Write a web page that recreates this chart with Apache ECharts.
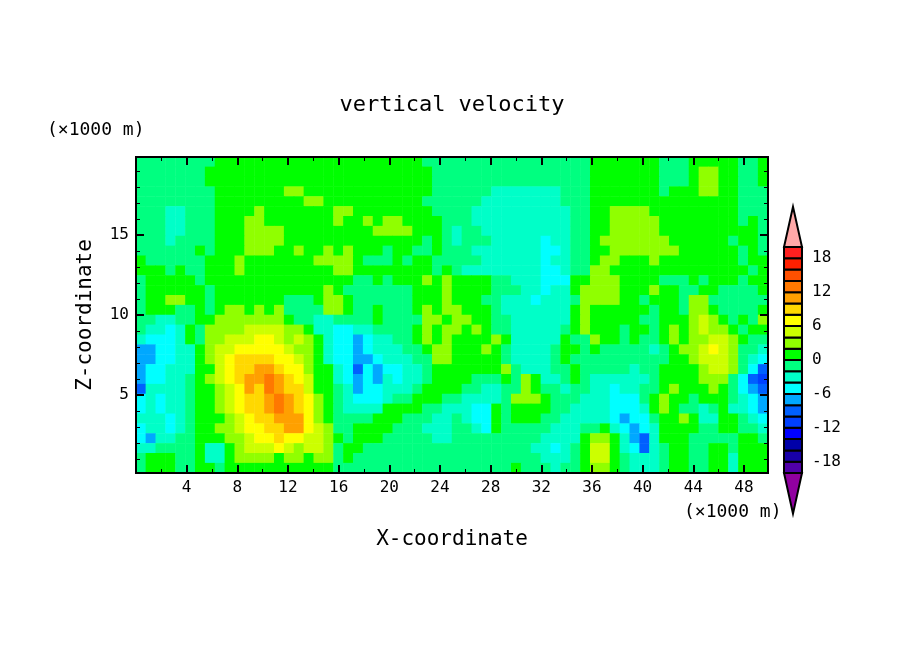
<!DOCTYPE html>
<html>
<head>
<meta charset="utf-8">
<style>html,body{margin:0;background:#fff}#chart{width:904px;height:654px}</style>
<script src="https://cdn.jsdelivr.net/npm/echarts@6/dist/echarts.min.js"></script>
</head>
<body>
<div id="chart"></div>
<script>
// band edges of the colour bar and the colour of each band
const bandEdges = [-20,-18,-16,-14,-12,-10,-8,-6,-4,-2,0,2,4,6,8,10,12,14,16,18,20];
const bandColors = ['#5000a8','#1800a8','#0000a8','#0000ff','#0040ff','#0060ff','#00a8ff','#00ffff','#00ffc8','#00ff80',
  '#00ff00','#90ff00','#ccff00','#ffff00','#ffd800','#ffa000','#ff7800','#ff5000','#ff2000','#ff2020'];
const barLabels = [-18,-12,-6,0,6,12,18];
const xLabels = [4,8,12,16,20,24,28,32,36,40,44,48];
const xMinor = [2,6,10,14,18,22,26,30,34,38,42,46];
const zLabels = [5,10,15];
const zMinor = [1,2,3,4,6,7,8,9,11,12,13,14,16,17,18,19];

// vertical velocity, top row first
const wRows = [
[-1,-1,-1,-1,-1,-1,-1,-1, 1,1,1,1,1,1,1,1, 1,1,1,1,1,1,1,1, 1,1,1,1,1,-1,-1,-1, -1,-1,-1,-1,-1,-1,-1,-1, -1,-1,-1,-1,-1,-1,1,1, 1,1,1,1,1,-1,-1,-1, 1,1,1,1,1,-1,-1,1],
[-1,-1,-1,-1,-1,-1,-1,1, 1,1,1,1,1,1,1,1, 1,1,1,1,1,1,1,1, 1,1,1,1,1,1,-1,-1, -1,-1,-1,-1,-1,-1,-1,-1, -1,-1,-1,-1,-1,-1,1,1, 1,1,1,1,1,-1,-1,-1, 1,3,3,1,1,-1,-1,1],
[-1,-1,-1,-1,-1,-1,-1,1, 1,1,1,1,1,1,1,1, 1,1,1,1,1,1,1,1, 1,1,1,1,1,1,-1,-1, -1,-1,-1,-1,-1,-1,-1,-1, -1,-1,-1,-1,-1,-1,1,1, 1,1,1,1,1,-1,-1,-1, 1,3,3,1,1,-1,-1,1],
[-1,-1,-1,-1,-1,-1,-1,-1, 1,1,1,1,1,1,1,3, 3,1,1,1,1,1,1,1, 1,1,1,1,1,1,-1,-1, -1,-1,-1,-1,-3,-3,-3,-3, -3,-3,-3,-1,-1,-1,1,1, 1,1,1,1,1,-1,1,1, 1,3,3,1,1,-1,-1,-1],
[-1,-1,-1,-1,-1,-1,-1,-1, 1,1,1,1,1,1,1,1, 1,3,3,1,1,1,1,1, 1,1,1,1,1,-1,-1,-1, -1,-1,-1,-3,-3,-3,-3,-3, -3,-3,-3,-1,-1,-1,1,1, 1,1,1,1,1,1,1,1, 1,1,1,1,1,-1,-1,-1],
[-1,-1,-1,-3,-3,-1,-1,-1, 1,1,1,1,3,1,1,1, 1,1,1,1,3,3,1,1, 1,1,1,1,1,1,-1,-1, -1,-1,-3,-3,-3,-3,-3,-3, -3,-3,-3,-3,-1,-1,1,1, 3,3,3,3,1,1,1,1, 1,1,1,1,1,-1,-1,-1],
[-1,-1,-1,-3,-3,-1,-1,-1, 1,1,1,3,3,1,1,1, 1,1,1,1,3,1,1,3, 1,3,3,1,1,1,1,-1, -1,-1,-3,-3,-3,-3,-3,-3, -3,-3,-3,-3,-1,-1,1,1, 3,3,3,3,3,1,1,1, 1,1,1,1,1,-1,1,-1],
[-1,-1,-1,-3,-3,-1,-1,-1, 1,1,1,3,3,3,3,1, 1,1,1,1,1,1,1,1, 3,3,3,3,1,1,1,-1, -3,-1,-1,-3,-3,-3,-3,-3, -3,-3,-3,-3,-1,-1,1,1, 3,3,3,3,3,1,1,1, 1,1,1,1,1,1,1,-1],
[-1,-1,-1,-3,-1,-1,-1,-1, 1,1,1,3,3,3,3,1, 1,1,1,1,1,1,1,1, 1,1,1,1,1,-1,1,-1, -3,-1,-1,-1,-3,-3,-3,-3, -3,-5,-3,-3,-1,-1,1,3, 3,3,3,3,3,3,1,1, 1,1,1,1,-1,1,1,-1],
[-1,-1,-1,-1,-1,-1,1,-1, 1,1,1,3,3,3,1,1, 3,1,1,3,1,3,1,1, 1,-1,1,1,-1,-1,1,-1, -1,-1,-3,-3,-3,-3,-3,-3, -3,-5,-5,-3,-1,-1,1,1, 3,3,3,3,3,3,3,1, 1,1,1,1,1,-1,1,-1],
[1,-1,-1,-1,-1,-1,-1,1, 1,1,3,1,1,1,1,1, 1,1,3,3,3,3,1,-1, -1,-1,1,-1,1,1,-1,-1, -1,-1,-1,-3,-3,-3,-3,-3, -3,-5,-3,-3,-1,-1,1,3, 3,1,1,1,3,1,1,1, 1,1,1,1,1,-1,1,1],
[1,1,1,-1,1,-1,-1,1, 1,1,3,1,1,1,1,1, 1,1,1,1,3,3,1,1, 1,1,1,1,1,1,-1,1, -1,-3,-3,-3,-3,-3,-3,-3, -3,-5,-5,-3,-1,-1,3,3, 1,1,1,1,1,1,1,1, 1,1,1,1,1,1,-1,1],
[-1,1,1,1,1,1,-1,1, 1,1,1,1,1,1,1,1, 1,1,1,1,1,1,-1,-1, 1,-1,1,1,1,3,1,3, 1,1,1,1,-1,-1,-3,-3, -3,-5,-5,-5,1,1,3,3, 3,1,1,1,1,-1,-1,-1, 1,-1,1,1,1,-1,1,1],
[-1,1,1,1,1,1,1,-1, 1,1,1,1,1,1,1,1, 1,1,1,3,1,-1,-1,-1, -1,-1,-1,-1,1,1,1,3, 1,1,1,1,-1,-1,-1,-3, -3,-5,-3,-3,1,3,3,3, 3,1,1,1,3,1,1,-1, -1,1,1,-1,-1,-1,-1,1],
[-1,1,1,3,3,1,1,-1, 1,1,1,1,1,1,1,-1, -1,-1,1,3,3,1,-1,-1, -1,-1,-1,-1,1,1,1,3, 1,1,1,-1,-1,-3,-3,-3, -5,-3,-3,-3,-1,3,3,3, 3,1,1,-1,1,1,1,-1, 3,3,-1,-1,-1,-1,-1,-1],
[-1,1,1,1,-1,-1,1,-1, 1,3,3,1,3,1,3,-1, -1,-1,-1,3,3,1,-1,-1, 1,-1,-1,-1,1,3,1,3, 3,1,1,1,-1,-3,-3,-3, -3,-3,-3,-3,1,3,1,1, 1,1,1,1,-1,1,1,-1, 3,3,1,-1,-1,-1,-1,1],
[-1,-1,-3,-3,-1,-1,1,1, 3,3,3,3,3,3,3,1, -1,-1,-3,-3,-1,-1,-1,-1, 1,-1,-1,-1,-1,3,3,1, 3,3,1,1,-1,-1,-3,-3, -3,-3,-3,-3,1,3,1,1, 1,1,1,-1,-1,1,1,1, 3,5,3,1,-1,1,-1,3],
[-1,-3,-3,-5,-3,1,-1,3, 3,3,3,5,5,5,5,3, 3,1,-3,-3,-5,-5,-3,-3, -1,-1,-1,-1,1,3,1,3, 3,1,3,1,-1,-1,-3,-3, -3,-3,-3,-1,1,3,1,1, 1,-1,1,1,-1,1,3,1, 3,5,3,3,1,-1,1,1],
[-3,-5,-5,-5,-3,1,-1,3, 3,5,5,5,7,7,5,3, 5,3,1,-3,-5,-5,-7,-5, -3,-3,-1,-1,1,3,1,3, 1,1,1,1,3,1,-3,-3, -3,-3,-3,1,-1,-1,3,1, 1,-1,1,-1,-1,1,3,1, 3,3,5,5,3,1,-1,-1],
[-7,-7,-5,-5,-3,-3,1,3, 5,5,7,7,7,7,7,5, 3,3,1,-3,-5,-5,-7,-5, -3,-3,-3,-1,-1,1,3,3, 1,1,1,3,1,-1,-3,-3, -3,-3,-1,1,1,-1,1,-1, -1,-1,-1,-1,-3,-1,1,3, 3,5,7,5,3,-1,-1,-3],
[-7,-7,-5,-5,-3,-3,1,3, 5,7,9,9,9,9,7,7, 5,3,1,-3,-5,-5,-7,-7, -5,-3,-3,-3,-1,-1,3,3, 1,1,1,1,1,-1,-3,-3, -3,-3,-1,1,-1,-1,-1,-1, -1,-1,-1,-1,-1,-1,1,1, 3,5,5,5,3,-1,-3,-5],
[-7,-5,-5,-3,-3,-3,1,1, 5,7,9,9,11,11,9,7, 7,3,1,1,-3,-5,-9,-5, -7,-5,-5,-3,-3,-1,1,1, 1,1,1,1,1,3,-1,-3, -3,-3,-1,-1,1,-1,-1,-1, -1,-1,-3,-1,-1,1,1,1, 1,3,5,5,3,-1,-5,-9],
[-7,-5,-5,-3,-3,-1,1,3, 5,7,9,11,11,13,11,9, 7,5,1,1,-3,-5,-7,-5, -7,-3,-5,-3,-3,-1,1,1, 1,1,-1,-1,-1,1,-1,3, 1,-3,-3,-1,1,-1,-3,-3, -3,-3,-3,-3,-1,1,1,1, 1,3,3,3,-1,-5,-9,-11],
[-9,-3,-3,-3,-3,-1,1,1, 3,5,7,11,9,13,11,9, 9,5,1,1,-1,-3,-7,-5, -5,-3,-3,-3,-1,1,1,1, 1,-1,-1,-3,-3,-1,-1,3, 1,-1,-1,-3,-1,-1,-3,-3, -5,-3,-3,-1,-1,1,3,1, 1,1,3,1,-1,-5,-7,-9],
[-5,-3,-5,-3,-3,-1,1,1, 3,5,7,9,9,11,13,11, 9,7,3,1,-1,-3,-5,-5, -5,-3,-1,-1,1,1,1,-1, -1,-3,-3,-3,-3,-1,3,3, 3,1,-1,-1,-1,-3,-3,-3, -5,-5,-5,-1,1,3,1,1, -1,1,1,1,-1,-3,-5,-7],
[-5,-3,-5,-3,-3,-1,1,1, 3,5,7,9,9,11,13,11, 9,7,3,1,-1,-3,-3,-3, -3,1,1,1,1,-1,-1,-3, -3,-3,-5,-5,1,-1,1,1, 1,1,-1,-1,-3,-3,-3,-3, -5,-5,-5,-3,1,3,1,-1, -1,-3,-1,1,-3,-3,-5,-7],
[-3,-3,-3,-5,-3,-1,1,1, 1,3,5,7,9,9,11,11, 11,7,3,1,-1,-1,-1,-1, 1,1,1,-1,-1,-1,-3,-3, -1,-3,-5,-5,1,-1,1,1, 1,-1,-1,-3,-3,-3,-3,-3, -5,-7,-5,-5,-1,1,1,3, 1,-3,-3,1,1,-1,-3,-5],
[-5,-3,-3,-5,-3,-1,1,1, 3,3,5,7,7,9,9,11, 11,7,5,3,-1,-1,1,1, 1,1,-1,-1,-1,-3,-3,-3, -1,-1,-3,-5,1,-1,-1,-1, -1,-1,-3,-3,-3,-1,-1,1, -3,-5,-7,-5,-3,1,1,1, 1,-1,-1,1,1,-1,-1,-3],
[-5,-7,-3,-3,-1,-1,1,1, 1,3,3,5,7,7,9,7, 7,5,5,3,1,-1,1,1, 1,-1,-1,-1,-1,-1,-3,-3, -1,-1,-1,-1,-1,-1,-1,-1, -1,-3,-3,-3,-3,1,3,3, 1,-3,-7,-9,-3,1,1,1, -1,-1,-1,-1,-1,1,1,-1],
[-3,-3,-1,-1,-1,-1,1,-3, -3,1,3,5,5,5,7,5, 3,5,5,3,-1,1,1,-1, -1,-1,-1,-1,-1,-1,-1,-1, -1,-1,-1,-1,-1,-1,-1,-1, -3,-3,-5,-3,-1,1,5,5, 1,-3,-5,-9,-3,-1,1,1, -1,-1,1,1,-1,1,1,1],
[-1,1,1,1,-1,-1,1,-3, -3,1,3,3,3,3,1,3, 3,1,3,3,-1,1,-1,-1, -1,-1,-1,-1,-1,-1,-1,-1, -1,-1,-1,-1,-1,-1,-1,-1, -1,-3,-3,-3,-1,1,5,5, 1,-1,-3,-3,-3,-1,1,1, -1,-1,1,1,-3,1,1,1],
[-1,1,1,1,-1,-1,1,1, -1,1,1,1,1,1,1,1, 1,1,1,1,-1,-1,-1,-1, -1,-1,-1,-1,-1,-1,-1,-1, -1,-1,-1,-1,-1,-1,1,-1, -1,-1,-3,-1,-1,1,3,3, 1,-1,-3,-3,-3,-1,1,1, -1,-1,1,1,-3,1,1,1]
];

const plotBox = {left: 136, top: 157, width: 632, height: 316};
const barBox = {left: 784, top: 247, width: 18, height: 226};
const xSpan = [0, 49.9];
const zSpan = [0.12, 19.88];
const arrowTips = [-27.2, 27.1];
const textFont = 'DejaVu Sans Mono';

let cells = [];
wRows.forEach(function (row, j) {
    row.forEach(function (w, i) {
        cells.push([i, j, w]);
    });
});

const pieces = bandColors.map(function (c, i) {
    return {gte: bandEdges[i], lt: bandEdges[i + 1], color: c};
});

// colour bar boxes, then the two arrow heads
let barItems = bandColors.map(function (c, i) {
    return [bandEdges[i], bandEdges[i + 1]];
});
barItems.push([-20, arrowTips[0]]);
barItems.push([20, arrowTips[1]]);

function renderBar(params, api) {
    let lo = api.value(0), hi = api.value(1);
    let left = barBox.left, right = barBox.left + barBox.width;
    let y0 = api.coord([0, lo])[1], y1 = api.coord([0, hi])[1];
    let style = {stroke: '#000', lineWidth: 2};
    if (params.dataIndex < bandColors.length) {
        style.fill = bandColors[params.dataIndex];
        return {type: 'rect', shape: {x: left, y: y1, width: right - left, height: y0 - y1}, style: style};
    }
    style.fill = params.dataIndex === bandColors.length ? '#9000a0' : '#ffa8a8';
    return {type: 'polygon', shape: {points: [[left, y0], [right, y0], [(left + right) / 2, y1]]}, style: style};
}

function tickAxis(grid, position, span, ticks, len, width, showLabels) {
    return {
        type: 'value', gridIndex: grid, position: position, min: span[0], max: span[1], z: 10,
        axisLine: {show: true, onZero: false, lineStyle: {color: '#000', width: 2}},
        axisTick: {show: true, inside: true, length: len, customValues: ticks, lineStyle: {color: '#000', width: width}},
        axisLabel: showLabels
            ? {show: true, customValues: ticks, color: '#000', fontFamily: textFont, fontSize: 16, margin: 7}
            : {show: false},
        splitLine: {show: false}
    };
}

let xBottom = tickAxis(1, 'bottom', xSpan, xLabels, 8, 2, true);
xBottom.name = 'X-coordinate';
xBottom.nameLocation = 'middle';
xBottom.nameGap = 56;
xBottom.nameTextStyle = {color: '#000', fontFamily: textFont, fontSize: 21};

let zLeft = tickAxis(1, 'left', zSpan, zLabels, 8, 2, true);
zLeft.name = 'Z-coordinate';
zLeft.nameLocation = 'middle';
zLeft.nameGap = 40;
zLeft.nameTextStyle = {color: '#000', fontFamily: textFont, fontSize: 21};

let option = {
    animation: false,
    backgroundColor: '#fff',
    title: [
        {text: 'vertical velocity', left: 447, top: 89, textAlign: 'center',
            textStyle: {color: '#000', fontFamily: textFont, fontWeight: 'normal', fontSize: 22}},
        {text: '(×1000 m)', left: 42, top: 116,
            textStyle: {color: '#000', fontFamily: textFont, fontWeight: 'normal', fontSize: 18}},
        {text: '(×1000 m)', left: 679, top: 498,
            textStyle: {color: '#000', fontFamily: textFont, fontWeight: 'normal', fontSize: 18}}
    ],
    grid: [plotBox, plotBox, plotBox, barBox],
    xAxis: [
        {type: 'category', gridIndex: 0, show: false, data: wRows[0].map(function (v, i) { return i; })},
        xBottom,
        tickAxis(1, 'top', xSpan, xLabels, 8, 2, false),
        tickAxis(2, 'bottom', xSpan, xMinor, 4, 1, false),
        tickAxis(2, 'top', xSpan, xMinor, 4, 1, false),
        {type: 'value', gridIndex: 3, show: false, min: 0, max: 1}
    ],
    yAxis: [
        {type: 'category', gridIndex: 0, show: false, inverse: true, data: wRows.map(function (v, j) { return j; })},
        zLeft,
        tickAxis(1, 'right', zSpan, zLabels, 8, 2, false),
        tickAxis(2, 'left', zSpan, zMinor, 4, 1, false),
        tickAxis(2, 'right', zSpan, zMinor, 4, 1, false),
        {
            type: 'value', gridIndex: 3, position: 'right', min: -20, max: 20,
            axisLine: {show: false}, axisTick: {show: false}, splitLine: {show: false},
            axisLabel: {show: true, customValues: barLabels, color: '#000', fontFamily: textFont, fontSize: 16, margin: 10}
        }
    ],
    visualMap: {
        show: false, type: 'piecewise', seriesIndex: 0, dimension: 2, pieces: pieces
    },
    series: [
        {
            type: 'heatmap', xAxisIndex: 0, yAxisIndex: 0, data: cells, progressive: 0,
            itemStyle: {borderWidth: 0}, emphasis: {disabled: true}, z: 1
        },
        {
            type: 'custom', xAxisIndex: 5, yAxisIndex: 5, data: barItems, renderItem: renderBar,
            clip: false, encode: {y: [0, 1]}, z: 3
        }
    ]
};

let myChart = echarts.init(document.getElementById('chart'), null, {renderer: 'canvas'});
myChart.setOption(option);
</script>
</body>
</html>
